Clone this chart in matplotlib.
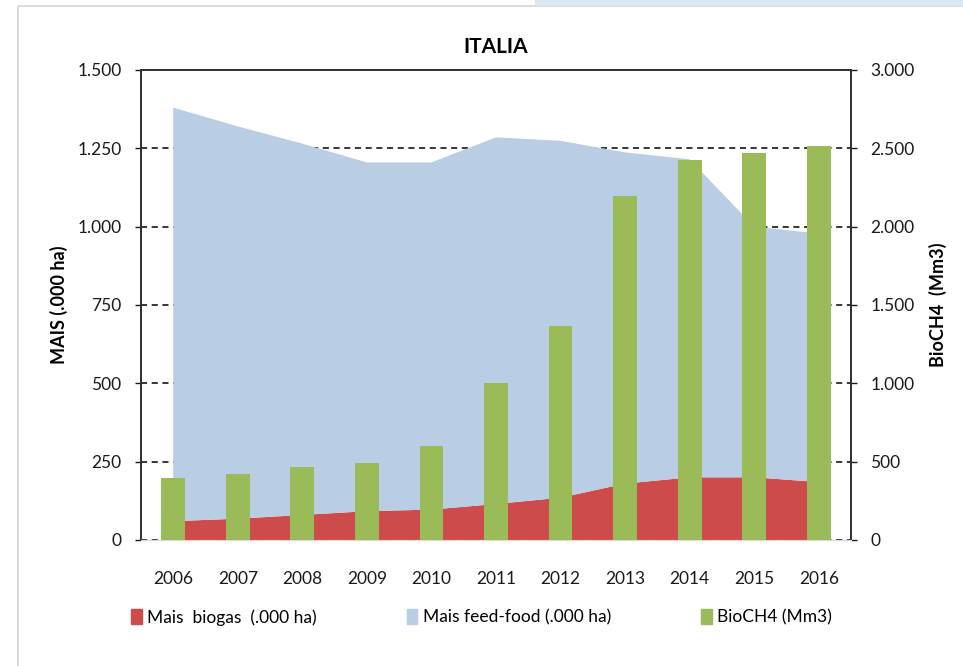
import matplotlib
matplotlib.use('Agg')
import matplotlib.pyplot as plt
import numpy as np
from matplotlib.patches import Rectangle, Patch
from matplotlib.ticker import FuncFormatter

plt.rcParams['font.family'] = ['Lato', 'DejaVu Sans']

# data
years = ['2006', '2007', '2008', '2009', '2010', '2011', '2012', '2013', '2014', '2015', '2016']
mais_biogas = [60, 68, 80, 92, 97, 115, 135, 180, 200, 200, 185]
mais_feed_food = [1320, 1252, 1185, 1113, 1108, 1170, 1139, 1057, 1015, 800, 793]
bioch4 = [395, 422, 469, 490, 603, 1002, 1364, 2196, 2426, 2469, 2516]

red = '#CD4B4B'
blue = '#B9CDE5'
green = '#9BBB59'


def dot_thousands(v, pos):
    return '{:,.0f}'.format(v).replace(',', '.')


fig = plt.figure(figsize=[9.63, 6.66], dpi=100)

# outer frame of the original picture
fig.patches.append(Rectangle((18 / 963, -0.01), 1.0, 1 - 6 / 666 + 0.01, transform=fig.transFigure,
                             fill=False, edgecolor='#D5D5D5', linewidth=1.2))
fig.patches.append(Rectangle((535 / 963, 1 - 6 / 666), 1.0, 6 / 666, transform=fig.transFigure,
                             color='#DCE9F0', linewidth=0))

ax = fig.add_axes([0.1464, 0.1892, 0.7373, 0.7057])
x = np.arange(len(years))

ax.stackplot(x, mais_biogas, mais_feed_food, colors=[red, blue], zorder=1)
ax.set_xlim(-0.5, len(years) - 0.5)
ax.set_ylim(0, 1500)
ax.set_yticks([0, 250, 500, 750, 1000, 1250, 1500])
ax.yaxis.set_major_formatter(FuncFormatter(dot_thousands))
ax.set_axisbelow(True)
ax.yaxis.grid(True, linestyle=(0, (4, 3)), color='black', linewidth=1.1)
ax.set_xticks(x)
ax.set_xticklabels(years)
ax.tick_params(axis='x', length=0, pad=22, labelsize=12.5, colors='#1a1a1a')
ax.tick_params(axis='y', length=4, width=1, labelsize=12.5, pad=10, colors='#1a1a1a')
ax.set_ylabel('MAIS (.000 ha)', fontsize=13, fontweight='bold', labelpad=7)
ax.set_title('ITALIA', fontsize=15, fontweight='bold', pad=12)

for side in ['left', 'top', 'right']:
    ax.spines[side].set_color('#333333')
    ax.spines[side].set_linewidth(1.3)
ax.spines['bottom'].set_color('#D9D9D9')

ax2 = ax.twinx()
ax2.bar(x, bioch4, width=0.37, color=green, zorder=3)
ax2.set_ylim(0, 3000)
ax2.set_yticks([0, 500, 1000, 1500, 2000, 2500, 3000])
ax2.yaxis.set_major_formatter(FuncFormatter(dot_thousands))
ax2.tick_params(axis='y', length=4, width=1, labelsize=12.5, pad=10, colors='#1a1a1a')
ax2.set_ylabel('BioCH4  (Mm3)', fontsize=13, fontweight='bold', labelpad=10)
for side in ['left', 'top', 'right']:
    ax2.spines[side].set_color('#333333')
    ax2.spines[side].set_linewidth(1.3)
ax2.spines['bottom'].set_color('#D9D9D9')

handles = [Patch(color=red, label='Mais  biogas  (.000 ha)'),
           Patch(color=blue, label='Mais feed-food (.000 ha)'),
           Patch(color=green, label='BioCH4 (Mm3)')]
fig.legend(handles=handles, loc='center', bbox_to_anchor=(0.5, 0.073), ncol=3, frameon=False,
           fontsize=12.5, handlelength=0.6, handleheight=0.9, handletextpad=0.3, columnspacing=5.2)

fig.savefig('out.png', dpi=100)
